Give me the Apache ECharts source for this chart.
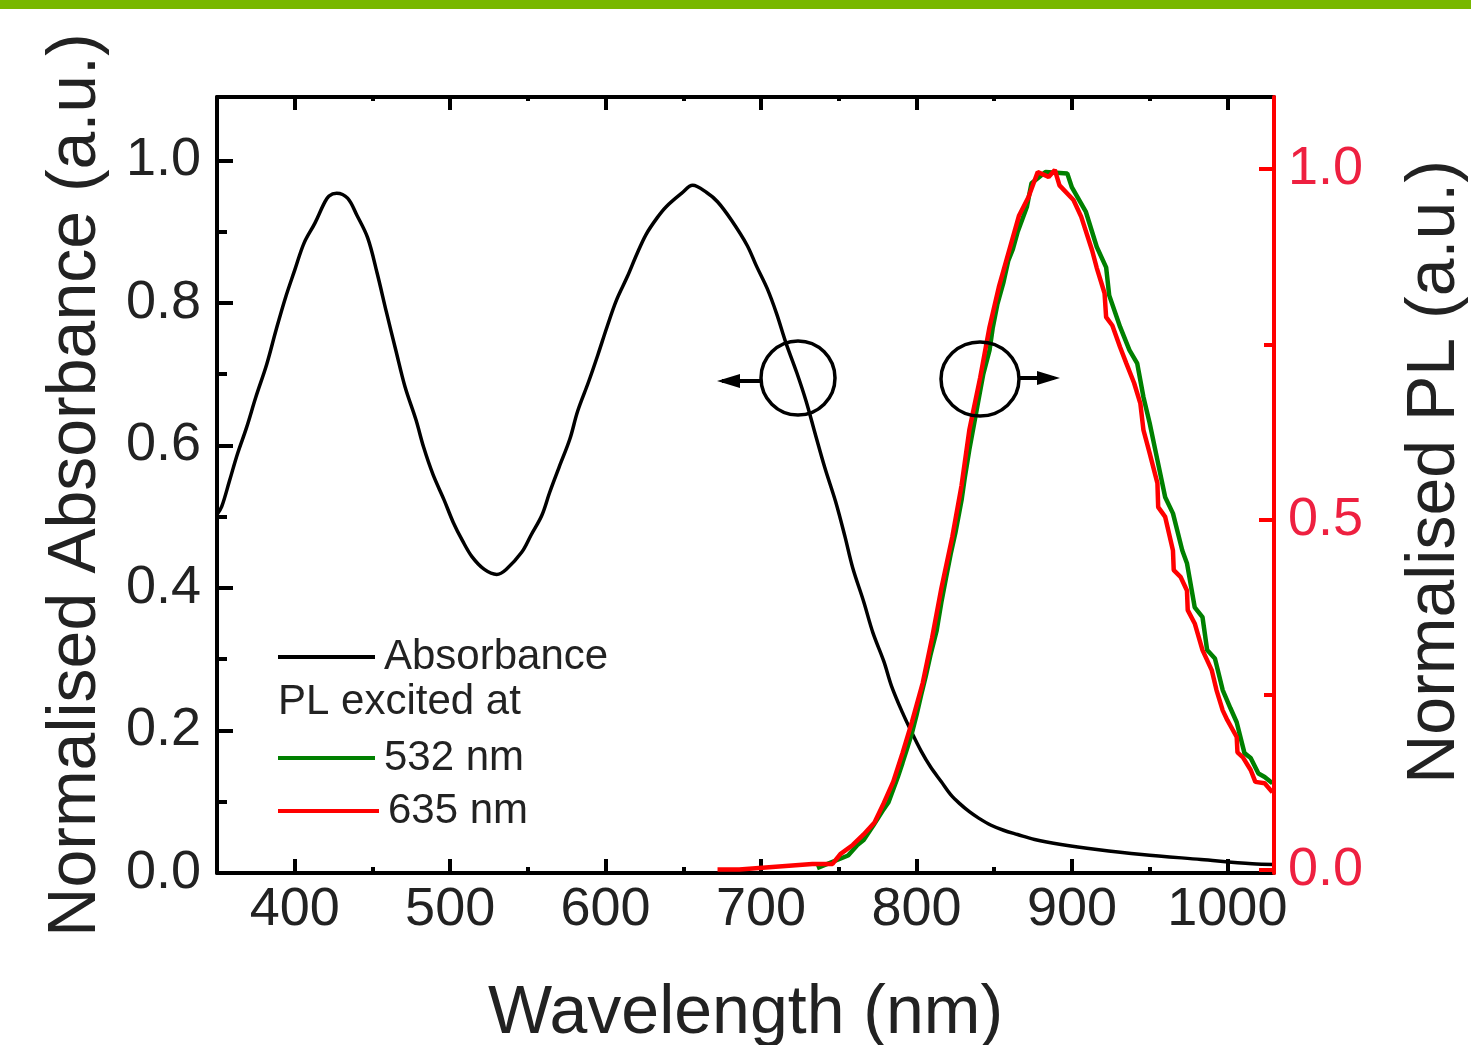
<!DOCTYPE html>
<html>
<head>
<meta charset="utf-8">
<title>Absorbance and PL</title>
<script src="https://cdn.jsdelivr.net/npm/echarts@6.0.0/dist/echarts.min.js"></script>
<style>
html, body { margin: 0; padding: 0; background: #fff; overflow: hidden; }
#main { width: 1471px; height: 1045px; }
</style>
</head>
<body>
<div id="main"></div>
<script>
// absorbance (left axis)
var absWl = [350,353,358,363,369,375,382,388,394,400,
    406,413,419,422,427,434,440,447,453,459,
    465,471,478,483,489,496,502,508,514,522,
    530,536,546,552,559,564,570,577,582,589,
    595,601,607,614,620,626,633,639,649,656,
    665,672,681,691,697,704,710,716,723,729,
    735,741,748,754,759,766,772,779,784,791,
    797,803,809,816,822,828,834,840,848,856,
    865,876,893,916,945,983,1016,1030];
var absVal = [0.503,0.514,0.550,0.587,0.625,0.668,0.714,0.762,0.807,0.846,
    0.884,0.912,0.940,0.950,0.954,0.947,0.923,0.891,0.842,0.787,
    0.734,0.682,0.636,0.597,0.559,0.524,0.492,0.466,0.444,0.426,
    0.419,0.426,0.450,0.474,0.502,0.534,0.569,0.609,0.648,0.689,
    0.727,0.767,0.804,0.837,0.868,0.896,0.919,0.935,0.954,0.965,
    0.955,0.942,0.916,0.881,0.852,0.820,0.785,0.744,0.702,0.662,
    0.615,0.569,0.521,0.472,0.428,0.381,0.337,0.297,0.262,0.225,
    0.197,0.171,0.149,0.128,0.110,0.097,0.086,0.077,0.067,0.060,
    0.054,0.047,0.040,0.033,0.026,0.019,0.013,0.012];

// PL excited at 532 nm (right axis)
var pl532Wl = [736,756,762,766,772,778,782,788,791,794,
    797,800,803,806,809,813,816,819,822,825,
    829,831,834,837,840,843,847,849,852,856,
    859,862,865,871,874,883,897,900,909,916,
    922,924,931,937,942,946,950,955,960,965,
    971,974,979,984,987,992,997,1002,1006,1011,
    1015,1020,1024,1029];
var pl532Val = [0.003,0.021,0.036,0.043,0.063,0.084,0.097,0.133,0.153,0.174,
    0.195,0.221,0.250,0.277,0.307,0.342,0.382,0.417,0.451,0.481,
    0.528,0.559,0.600,0.636,0.672,0.708,0.742,0.773,0.807,0.839,
    0.869,0.886,0.910,0.946,0.980,0.996,0.994,0.974,0.939,0.889,
    0.860,0.820,0.775,0.742,0.723,0.675,0.638,0.585,0.532,0.509,
    0.456,0.438,0.375,0.361,0.314,0.302,0.257,0.231,0.211,0.167,
    0.160,0.138,0.133,0.124];

// PL excited at 635 nm (right axis)
var pl635Wl = [672,686,703,733,746,751,759,766,773,779,
    785,791,797,804,810,816,823,829,834,841,
    847,853,860,866,872,878,885,889,892,901,
    906,913,916,921,922,926,931,935,940,944,
    946,950,955,955.5,960,965,965.5,970,974,974.5,
    979,984,990,993,997,1000,1006,1006.5,1010,1015,
    1018,1024,1029];
var pl635Val = [0.001,0.001,0.004,0.009,0.009,0.023,0.036,0.051,0.068,0.096,
    0.126,0.167,0.211,0.267,0.331,0.402,0.475,0.549,0.628,0.703,
    0.775,0.832,0.887,0.934,0.960,0.996,0.989,0.999,0.977,0.956,
    0.932,0.884,0.859,0.823,0.789,0.777,0.746,0.723,0.695,0.666,
    0.628,0.595,0.552,0.518,0.504,0.456,0.428,0.418,0.399,0.371,
    0.352,0.314,0.285,0.257,0.228,0.214,0.190,0.168,0.161,0.143,
    0.126,0.124,0.111];

// tick positions
var xMajorTicks = [400,500,600,700,800,900,1000];
var xMinorTicks = [450,550,650,750,850,950];
var absMajorTicks = [0,0.2,0.4,0.6,0.8,1.0];
var absMinorTicks = [0.1,0.3,0.5,0.7,0.9];
var plMajorTicks = [0,0.5,1.0];
var plMinorTicks = [0.25,0.75];

function zip(xs, ys) {
    var out = [];
    for (var i = 0; i < xs.length; i++) out.push([xs[i], ys[i]]);
    return out;
}

var FONT = 'Liberation Sans';
var myChart = echarts.init(document.getElementById('main'), null, {width: 1471, height: 1045});

function xAx(pos, ticks, len, withLine, withLabel) {
    return {
        type: 'value', position: pos, min: 350, max: 1030,
        splitLine: {show: false},
        axisLine: {show: withLine, onZero: false, lineStyle: {color: '#000', width: 4}},
        axisTick: {show: true, inside: true, length: len, customValues: ticks,
            lineStyle: {color: '#000', width: 4}},
        axisLabel: {show: withLabel, customValues: ticks, margin: 10,
            fontFamily: FONT, fontSize: 54, color: '#222',
            formatter: function (v) { return String(v); }}
    };
}

function yAx(pos, min, max, ticks, len, color, withLine, withLabel) {
    return {
        type: 'value', position: pos, min: min, max: max,
        splitLine: {show: false},
        axisLine: {show: withLine, onZero: false, lineStyle: {color: color, width: 4}},
        axisTick: {show: true, inside: true, length: len, customValues: ticks,
            lineStyle: {color: color, width: 4}},
        axisLabel: {show: withLabel, customValues: ticks, margin: pos === 'left' ? 16 : 14,
            fontFamily: FONT, fontSize: 54,
            color: color === '#000' ? '#222' : '#ee2040',
            formatter: function (v) { return v.toFixed(1); }}
    };
}

var xBottom = xAx('bottom', xMajorTicks, 14, true, true);
xBottom.name = 'Wavelength (nm)';
xBottom.nameLocation = 'middle';
xBottom.nameGap = 107;
xBottom.nameTextStyle = {fontFamily: FONT, fontSize: 68, color: '#222'};

var yLeft = yAx('left', 0, 1.089, absMajorTicks, 16, '#000', true, true);
yLeft.name = 'Normalised Absorbance (a.u.)';
yLeft.nameLocation = 'middle';
yLeft.nameGap = 107;
yLeft.nameTextStyle = {fontFamily: FONT, fontSize: 68, color: '#222'};

var yRight = yAx('right', -0.004, 1.103, plMajorTicks, 15, '#ff0000', true, true);
yRight.name = 'Normalised PL (a.u.)';
yRight.nameLocation = 'middle';
yRight.nameGap = 127;
yRight.z = 5;
yRight.nameTextStyle = {fontFamily: FONT, fontSize: 68, color: '#222', padding: [0, 0, 0, 26]};

var yRightMinor = yAx('right', -0.004, 1.103, plMinorTicks, 10, '#ff0000', false, false);

var legendText = {fontFamily: FONT, fontSize: 42, color: '#222', padding: [0, 0, 0, 4]};

var option = {
    backgroundColor: '#fff',
    animation: false,
    grid: {left: 217, right: 197, top: 97, bottom: 172, containLabel: false, outerBoundsMode: 'none'},
    xAxis: [
        xBottom,
        xAx('bottom', xMinorTicks, 6, false, false),
        xAx('top', xMajorTicks, 13, true, false),
        xAx('top', xMinorTicks, 4, false, false)
    ],
    yAxis: [
        yLeft,
        yAx('left', 0, 1.089, absMinorTicks, 10, '#000', false, false),
        yRight,
        yRightMinor
    ],
    legend: [
        {data: ['Absorbance'], left: 278, top: 636, padding: 0, icon: 'rect',
            itemWidth: 97, itemHeight: 4, itemGap: 0, selectedMode: false, textStyle: legendText},
        {data: ['532 nm'], left: 278, top: 737, padding: 0, icon: 'rect',
            itemWidth: 97, itemHeight: 4, selectedMode: false, textStyle: legendText},
        {data: ['635 nm'], left: 278, top: 790, padding: 0, icon: 'rect',
            itemWidth: 101, itemHeight: 4, selectedMode: false, textStyle: legendText}
    ],
    graphic: [
        {type: 'rect', left: 0, top: 0, shape: {x: 0, y: 0, width: 1471, height: 9},
            style: {fill: '#78b800'}},
        {type: 'text', x: 278, y: 702, style: {text: 'PL excited at', fill: '#222',
            font: '42px "Liberation Sans"', textVerticalAlign: 'middle'}},
        // left circle + arrow (absorbance -> left axis)
        {type: 'circle', shape: {cx: 798, cy: 378, r: 37},
            style: {fill: 'none', stroke: '#000', lineWidth: 3.5}, z: 10},
        {type: 'line', shape: {x1: 761, y1: 381, x2: 722, y2: 381},
            style: {stroke: '#000', lineWidth: 4}, z: 10},
        {type: 'polygon', shape: {points: [[717, 381], [740, 374], [740, 388]]},
            style: {fill: '#000'}, z: 10},
        // right circle + arrow (PL -> right axis)
        {type: 'ellipse', shape: {cx: 980, cy: 379, rx: 39, ry: 37},
            style: {fill: 'none', stroke: '#000', lineWidth: 3.5}, z: 10},
        {type: 'line', shape: {x1: 1019, y1: 378, x2: 1054, y2: 378},
            style: {stroke: '#000', lineWidth: 4}, z: 10},
        {type: 'polygon', shape: {points: [[1060, 378], [1037, 371], [1037, 385]]},
            style: {fill: '#000'}, z: 10}
    ],
    series: [
        {name: 'Absorbance', type: 'line', xAxisIndex: 0, yAxisIndex: 0,
            data: zip(absWl, absVal), showSymbol: false, symbol: 'none', smooth: 0.35,
            lineStyle: {color: '#000', width: 3.5}, itemStyle: {color: '#000'}},
        {name: '532 nm', type: 'line', xAxisIndex: 0, yAxisIndex: 2,
            data: zip(pl532Wl, pl532Val), showSymbol: false, symbol: 'none',
            lineStyle: {color: '#008000', width: 4.5}, itemStyle: {color: '#008000'}},
        {name: '635 nm', type: 'line', xAxisIndex: 0, yAxisIndex: 2,
            data: zip(pl635Wl, pl635Val), showSymbol: false, symbol: 'none',
            lineStyle: {color: '#ff0000', width: 4.5}, itemStyle: {color: '#ff0000'}}
    ]
};

myChart.setOption(option);
</script>
</body>
</html>
